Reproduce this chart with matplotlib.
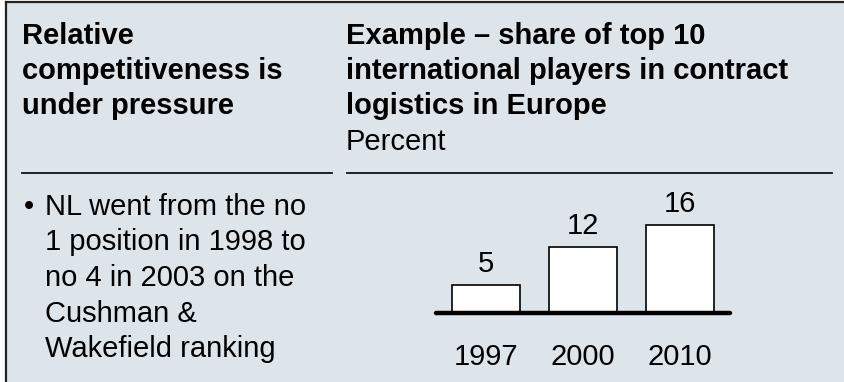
import matplotlib
matplotlib.use("Agg")
import matplotlib.pyplot as plt
from matplotlib.lines import Line2D

# Data
years = ["1997", "2000", "2010"]
shares = [5, 12, 16]

left_title = ["Relative", "competitiveness is", "under pressure"]
right_title = ["Example \u2013 share of top 10", "international players in contract",
               "logistics in Europe"]
unit_label = "Percent"
bullet_lines = ["NL went from the no", "1 position in 1998 to", "no 4 in 2003 on the",
                "Cushman &", "Wakefield ranking"]

W, H = 845, 382
DPI = 100
BG = "#dde4ea"
FONT = ["Liberation Sans", "DejaVu Sans"]
FS = 21

fig = plt.figure(figsize=(W / DPI, H / DPI), dpi=DPI)
fig.patch.set_facecolor("white")


def fx(px):
    return px / W


def fy(py):
    return 1 - py / H


# Panel background and frame (left and top edges)
fig.patches.append(plt.Rectangle((fx(6), 0), 1 - fx(6), fy(1), transform=fig.transFigure,
                                 facecolor=BG, edgecolor="none", zorder=-10))
fig.lines.append(Line2D([fx(6.5), fx(6.5)], [0, fy(1.5)], transform=fig.transFigure,
                        color="#222222", lw=1.6))
fig.lines.append(Line2D([fx(6.5), 1], [fy(1.5), fy(1.5)], transform=fig.transFigure,
                        color="#222222", lw=1.6))

# Headings
for i, line in enumerate(left_title):
    fig.text(fx(22), fy(44 + i * 35), line, fontsize=FS, fontweight="bold",
             family=FONT, va="baseline", ha="left")
for i, line in enumerate(right_title):
    fig.text(fx(346), fy(44 + i * 35), line, fontsize=FS, fontweight="bold",
             family=FONT, va="baseline", ha="left")
fig.text(fx(346), fy(150), unit_label, fontsize=FS, family=FONT, va="baseline", ha="left")

# Separator rules
fig.lines.append(Line2D([fx(22), fx(332)], [fy(173), fy(173)], transform=fig.transFigure,
                        color="#111111", lw=1.3))
fig.lines.append(Line2D([fx(347), fx(832)], [fy(173), fy(173)], transform=fig.transFigure,
                        color="#111111", lw=1.3))

# Bullet text
fig.text(fx(24), fy(215), "\u2022", fontsize=FS, family=FONT, va="baseline", ha="left")
for i, line in enumerate(bullet_lines):
    fig.text(fx(45), fy(215 + i * 35.5), line, fontsize=FS, family=FONT,
             va="baseline", ha="left")

# Bar chart
ax_left, ax_right = 436, 730
ax_bottom, ax_top = 312.5, 190
px_per_unit = 5.5
ax = fig.add_axes([fx(ax_left), fy(ax_bottom), fx(ax_right - ax_left),
                   (ax_bottom - ax_top) / H])
ax.set_zorder(5)
ax.patch.set_visible(False)
x = list(range(len(years)))
ax.bar(x, shares, width=0.71, color="white", edgecolor="black", linewidth=1.2, zorder=2)
ax.set_xlim(-0.515, 2.515)
ax.set_ylim(0, (ax_bottom - ax_top) / px_per_unit)
ax.axhline(0, color="black", lw=3.2, solid_capstyle="round", clip_on=False, zorder=3)
for s in ax.spines.values():
    s.set_visible(False)
ax.set_yticks([])
ax.set_xticks(x)
ax.set_xticklabels(years, fontsize=FS, family=FONT)
ax.tick_params(axis="x", length=0, pad=22)
for xi, v in zip(x, shares):
    ax.annotate(str(v), (xi, v), xytext=(0, 13), textcoords="offset pixels",
                ha="center", va="baseline", fontsize=FS, family=FONT)

fig.savefig("out.png", dpi=DPI, facecolor=fig.get_facecolor())
